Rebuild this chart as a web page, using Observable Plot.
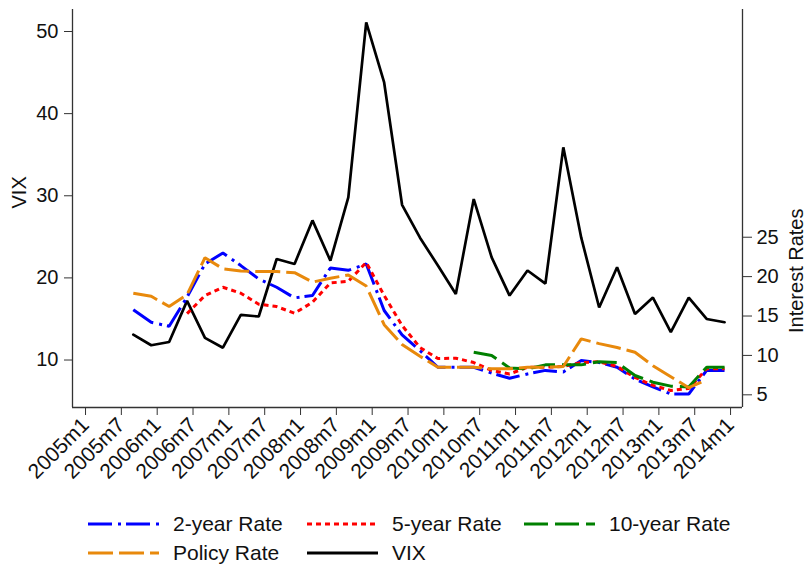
<!DOCTYPE html>
<html>
<head>
<meta charset="utf-8">
<script src="https://cdn.jsdelivr.net/npm/d3@7"></script>
<script src="https://cdn.jsdelivr.net/npm/@observablehq/plot@0.6"></script>
<style>
  html, body { margin: 0; padding: 0; background: #fff; }
  #wrap { position: relative; width: 806px; height: 564px; font-family: "Liberation Sans", Arial, Helvetica, sans-serif; color: #111; }
  .leg { position: absolute; display: flex; align-items: center; font-size: 21px; height: 26px; white-space: nowrap; }
  .leg svg { margin-right: 14px; }
</style>
</head>
<body>
<div id="wrap"></div>
<script>
// Quarterly observations (end-of-quarter months)
const periods = [
  "2005m9","2005m12","2006m3","2006m6","2006m9","2006m12","2007m3","2007m6",
  "2007m9","2007m12","2008m3","2008m6","2008m9","2008m12","2009m3","2009m6",
  "2009m9","2009m12","2010m3","2010m6","2010m9","2010m12","2011m3","2011m6",
  "2011m9","2011m12","2012m3","2012m6","2012m9","2012m12","2013m3","2013m6",
  "2013m9","2013m12"
];

// VIX (left axis)
const vix = [
  13.1, 11.8, 12.2, 17.2, 12.7, 11.5, 15.5, 15.3,
  22.3, 21.7, 27.0, 22.1, 29.8, 51.1, 43.8, 28.9,
  24.9, 21.5, 18.05, 29.6, 22.5, 17.85, 20.9, 19.3,
  35.9, 24.9, 16.4, 21.3, 15.6, 17.6, 13.4, 17.6,
  15.0, 14.6
];

// Interest rates (right axis)
const rate2y = [
  15.8, 14.2, 13.7, 17.4, 21.6, 23.0, 21.4, 19.7,
  18.65, 17.3, 17.6, 21.1, 20.8, 21.6, 15.7, 12.6,
  10.6, 8.5, 8.5, 8.5, 7.75, 7.1, 7.65, 8.1,
  7.9, 9.35, 9.1, 8.5, 7.0, 6.0, 5.1, 5.1,
  8.1, 8.1
];
const rate5y = [
  null, null, null, 15.3, 17.6, 18.65, 17.9, 16.5,
  16.2, 15.35, 16.75, 19.2, 19.4, 21.8, 17.6, 13.8,
  11.0, 9.6, 9.65, 9.1, 8.1, 7.65, 8.5, 8.5,
  8.6, 9.1, 9.2, 8.6, 7.2, 6.2, 5.55, 5.8,
  8.3, 8.3
];
const rate10y = [
  null, null, null, null, null, null, null, null,
  null, null, null, null, null, null, null, null,
  null, null, null, 10.4, 10.0, 8.4, 8.3, 8.8,
  8.8, 8.8, 9.2, 9.1, 7.45, 6.6, 6.1, 6.0,
  8.5, 8.5
];
const policyRate = [
  17.9, 17.5, 16.2, 17.7, 22.4, 21.0, 20.7, 20.65,
  20.65, 20.5, 19.3, 19.8, 20.2, 18.8, 13.9, 11.4,
  9.9, 8.5, 8.5, 8.5, 8.3, 8.3, 8.5, 8.5,
  8.6, 12.1, 11.5, 11.0, 10.4, 8.7, 7.3, 5.9,
  6.9, null
];

// Axis ticks
const xTickLabels = [
  "2005m1","2005m7","2006m1","2006m7","2007m1","2007m7","2008m1","2008m7",
  "2009m1","2009m7","2010m1","2010m7","2011m1","2011m7","2012m1","2012m7",
  "2013m1","2013m7","2014m1"
];
const vixTicks = [10, 20, 30, 40, 50];
const rateTicks = [5, 10, 15, 20, 25];

// Scale extents of the two vertical axes
const vixDomain = [4.22, 52.68];
const rateDomain = [3.39, 53.9];
const monthDomain = [-2.18, 110.0];

// "2005m9" -> months since 2005m1
const toMonth = s => { const [y, m] = s.split("m").map(Number); return (y - 2005) * 12 + (m - 1); };

// Rates share the plot with VIX: map the rate axis onto the VIX axis
const toVix = d3.scaleLinear().domain(rateDomain).range(vixDomain);

const seriesDefs = [
  {name: "2-year Rate", values: rate2y, color: "#0000ff", dash: "24,6,3,5"},
  {name: "5-year Rate", values: rate5y, color: "#ff0000", dash: "5,4"},
  {name: "10-year Rate", values: rate10y, color: "#008000", dash: "24,7"},
  {name: "Policy Rate", values: policyRate, color: "#e8890c", dash: "25,6"}
];

const rows = s => periods.map((p, i) => ({m: toMonth(p), v: s.values[i]})).filter(d => d.v != null);
const vixRows = periods.map((p, i) => ({m: toMonth(p), v: vix[i]}));

const font = "'Liberation Sans', Arial, Helvetica, sans-serif";
const axisColor = "#333";
const xTickMonths = xTickLabels.map(toMonth);

const chart = Plot.plot({
  width: 806,
  height: 500,
  marginLeft: 72,
  marginRight: 64,
  marginTop: 9,
  marginBottom: 93,
  style: {fontFamily: font, fontSize: "20px", color: "#111", background: "#fff"},
  x: {type: "linear", domain: monthDomain},
  y: {type: "linear", domain: vixDomain},
  marks: [
    // axis lines
    Plot.ruleX([monthDomain[0]], {stroke: axisColor, strokeWidth: 1.3}),
    Plot.ruleX([monthDomain[1]], {stroke: axisColor, strokeWidth: 1.3}),
    Plot.ruleY([vixDomain[0]], {stroke: axisColor, strokeWidth: 1.3}),
    // left axis: VIX
    Plot.axisY(vixTicks, {anchor: "left", tickSize: 8, tickPadding: 6, fontSize: 20, label: null, stroke: axisColor}),
    // right axis: interest rates
    Plot.axisY(rateTicks.map(r => toVix(r)), {
      anchor: "right", tickSize: 9, tickPadding: 5, fontSize: 20, label: null, stroke: axisColor,
      tickFormat: v => String(Math.round(toVix.invert(v)))
    }),
    // bottom axis with rotated period labels
    Plot.axisX(xTickMonths, {
      anchor: "bottom", tickSize: 8, tickPadding: 6, tickRotate: -45, fontSize: 21, label: null, stroke: axisColor,
      tickFormat: m => xTickLabels[xTickMonths.indexOf(m)]
    }),
    // axis titles
    Plot.text(["VIX"], {frameAnchor: "left", dx: -53, rotate: -90, fontSize: 20, fill: "#111"}),
    Plot.text(["Interest Rates"], {frameAnchor: "right", dx: 54, rotate: -90, fontSize: 20, fill: "#111"}),
    // VIX
    Plot.line(vixRows, {x: "m", y: "v", stroke: "#000", strokeWidth: 2.7, strokeLinejoin: "miter"}),
    // interest rate series
    ...seriesDefs.map(s => Plot.line(rows(s), {
      x: "m", y: d => toVix(d.v), stroke: s.color, strokeWidth: 3,
      strokeDasharray: s.dash, strokeLinecap: "butt", strokeLinejoin: "miter"
    }))
  ]
});

const wrap = document.getElementById("wrap");
chart.style.position = "absolute";
chart.style.left = "0px";
chart.style.top = "0px";
wrap.appendChild(chart);

// Legend below the plot
const legendItems = [
  {name: "2-year Rate", color: "#0000ff", dash: "24,6,3,5", col: 0, row: 0},
  {name: "5-year Rate", color: "#ff0000", dash: "5,4", col: 1, row: 0},
  {name: "10-year Rate", color: "#008000", dash: "24,7", col: 2, row: 0},
  {name: "Policy Rate", color: "#e8890c", dash: "25,6", col: 0, row: 1},
  {name: "VIX", color: "#000", dash: null, col: 1, row: 1}
];
const colX = [88, 307, 524];
const rowY = [511, 540];
for (const it of legendItems) {
  const div = document.createElement("div");
  div.className = "leg";
  div.style.left = colX[it.col] + "px";
  div.style.top = rowY[it.row] + "px";
  const ns = "http://www.w3.org/2000/svg";
  const svg = document.createElementNS(ns, "svg");
  svg.setAttribute("width", 71);
  svg.setAttribute("height", 26);
  const ln = document.createElementNS(ns, "line");
  ln.setAttribute("x1", 0); ln.setAttribute("x2", 71);
  ln.setAttribute("y1", 13); ln.setAttribute("y2", 13);
  ln.setAttribute("stroke", it.color);
  ln.setAttribute("stroke-width", 3);
  if (it.dash) ln.setAttribute("stroke-dasharray", it.dash);
  svg.appendChild(ln);
  div.appendChild(svg);
  const span = document.createElement("span");
  span.textContent = it.name;
  div.appendChild(span);
  wrap.appendChild(div);
}
</script>
</body>
</html>
